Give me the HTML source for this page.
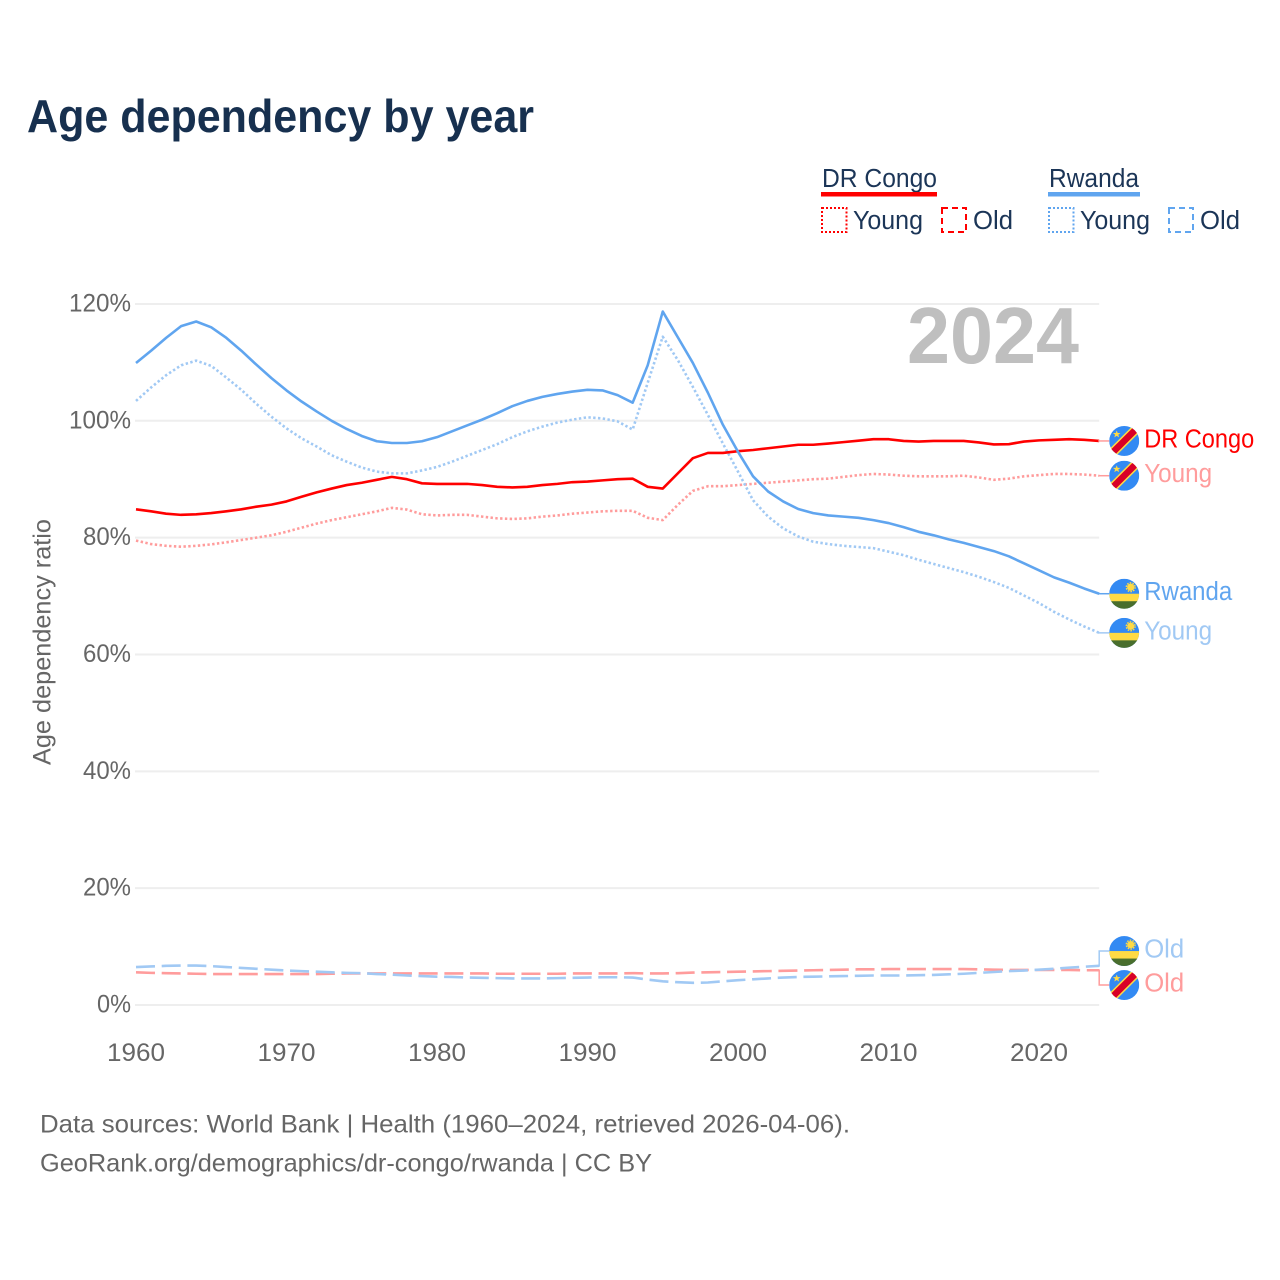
<!DOCTYPE html>
<html lang="en">
<head>
<meta charset="utf-8">
<title>Age dependency by year</title>
<style>
html,body{margin:0;padding:0;background:#fff;width:1280px;height:1280px;overflow:hidden}
svg{display:block;font-family:"Liberation Sans",sans-serif}
</style>
</head>
<body>
<svg id="chart" xmlns="http://www.w3.org/2000/svg" width="1280" height="1280" viewBox="0 0 1280 1280">
  <defs>
    <clipPath id="flag-clip"><circle cx="0" cy="0" r="15"/></clipPath>
    <symbol id="flag-cd" viewBox="-15 -15 30 30" overflow="visible">
      <g clip-path="url(#flag-clip)">
        <rect x="-15" y="-15" width="30" height="30" fill="#338af3"/>
        <line x1="-18" y1="18" x2="18" y2="-18" stroke="#ffda44" stroke-width="9.5"/>
        <line x1="-18" y1="18" x2="18" y2="-18" stroke="#d80027" stroke-width="6.5"/>
        <polygon points="-7.5,-10.5 -6.5,-7.9 -3.7,-7.9 -5.9,-6.2 -5.1,-3.6 -7.5,-5.1 -9.9,-3.6 -9.1,-6.2 -11.3,-7.9 -8.5,-7.9" fill="#ffda44"/>
      </g>
    </symbol>
    <symbol id="flag-rw" viewBox="-15 -15 30 30" overflow="visible">
      <g clip-path="url(#flag-clip)">
        <rect x="-15" y="-15" width="30" height="30" fill="#338af3"/>
        <rect x="-15" y="0" width="30" height="8" fill="#ffda44"/>
        <rect x="-15" y="7.5" width="30" height="8" fill="#496e2d"/>
        <circle cx="6.5" cy="-6.5" r="3.6" fill="#ffda44"/>
        <circle cx="6.5" cy="-6.5" r="4.4" fill="none" stroke="#ffda44" stroke-width="1.4" stroke-dasharray="1.6 1.2"/>
      </g>
    </symbol>
  </defs>

  <text x="27" y="132" font-size="46" font-weight="700" fill="#17304f" textLength="507" lengthAdjust="spacingAndGlyphs">Age dependency by year</text>

  <g id="legend" font-size="25.5" fill="#1b3557">
    <g>
      <text x="822" y="187" textLength="115" lengthAdjust="spacingAndGlyphs">DR Congo</text>
      <rect x="821" y="192" width="116" height="4.5" fill="#ff0000"/>
      <rect x="822" y="208" width="24.5" height="24" fill="none" stroke="#ff0000" stroke-width="2" stroke-dasharray="2 2"/>
      <text x="853" y="229" textLength="70" lengthAdjust="spacingAndGlyphs">Young</text>
      <rect x="942" y="208" width="24" height="24" fill="none" stroke="#ff0000" stroke-width="2" stroke-dasharray="6 4"/>
      <text x="973" y="229" textLength="40" lengthAdjust="spacingAndGlyphs">Old</text>
    </g>
    <g>
      <text x="1049" y="187" textLength="90" lengthAdjust="spacingAndGlyphs">Rwanda</text>
      <rect x="1048" y="192" width="92" height="4.5" fill="#60a5ef"/>
      <rect x="1049" y="208" width="24.5" height="24" fill="none" stroke="#60a5ef" stroke-width="2" stroke-dasharray="2 2"/>
      <text x="1080" y="229" textLength="70" lengthAdjust="spacingAndGlyphs">Young</text>
      <rect x="1169" y="208" width="24" height="24" fill="none" stroke="#60a5ef" stroke-width="2" stroke-dasharray="6 4"/>
      <text x="1200" y="229" textLength="40" lengthAdjust="spacingAndGlyphs">Old</text>
    </g>
  </g>

  <g id="grid"></g>

  <text x="907" y="363" font-size="80" font-weight="700" fill="#bfbfbf" textLength="172" lengthAdjust="spacingAndGlyphs">2024</text>

  <g id="y-axis" font-size="25" fill="#666666"></g>
  <g id="x-axis" font-size="25" fill="#666666"></g>
  <text transform="translate(50.5,642) rotate(-90)" text-anchor="middle" font-size="25" fill="#666666" textLength="246" lengthAdjust="spacingAndGlyphs">Age dependency ratio</text>

  <g id="series" fill="none"></g>
  <g id="end-labels" font-size="25.5"></g>

  <text x="40" y="1132.5" font-size="25" fill="#666666" textLength="810" lengthAdjust="spacingAndGlyphs">Data sources: World Bank | Health (1960–2024, retrieved 2026-04-06).</text>
  <text x="40" y="1171.5" font-size="25" fill="#666666" textLength="612" lengthAdjust="spacingAndGlyphs">GeoRank.org/demographics/dr-congo/rwanda | CC BY</text>
</svg>

<script>
const years = [1960,1961,1962,1963,1964,1965,1966,1967,1968,1969,1970,1971,1972,1973,1974,1975,1976,1977,1978,1979,1980,1981,1982,1983,1984,1985,1986,1987,1988,1989,1990,1991,1992,1993,1994,1995,1996,1997,1998,1999,2000,2001,2002,2003,2004,2005,2006,2007,2008,2009,2010,2011,2012,2013,2014,2015,2016,2017,2018,2019,2020,2021,2022,2023,2024];
const yTickValues = [0,20,40,60,80,100,120];
const xTickValues = [1960,1970,1980,1990,2000,2010,2020];

const drCongoTotal = [84.85,84.5,84.1,83.9,84,84.2,84.5,84.85,85.3,85.65,86.2,87,87.75,88.4,89,89.4,89.9,90.4,90,89.3,89.2,89.2,89.2,89,88.7,88.6,88.7,89,89.2,89.5,89.6,89.8,90,90.1,88.7,88.4,91,93.6,94.5,94.5,94.8,95,95.3,95.6,95.9,95.9,96.1,96.35,96.6,96.85,96.85,96.55,96.45,96.55,96.55,96.55,96.3,95.95,96,96.45,96.65,96.75,96.85,96.75,96.55];
const drCongoYoung = [79.5,78.9,78.6,78.45,78.6,78.85,79.2,79.6,80,80.4,81,81.7,82.4,83,83.5,84,84.5,85.1,84.8,84,83.8,83.9,83.9,83.6,83.3,83.2,83.3,83.6,83.8,84.1,84.3,84.5,84.6,84.6,83.4,83,85.6,88,88.8,88.8,89,89.2,89.4,89.6,89.8,90,90.1,90.4,90.7,90.9,90.8,90.6,90.5,90.5,90.5,90.6,90.3,89.9,90.1,90.5,90.7,90.9,90.9,90.8,90.6];
const drCongoOld = [5.6,5.5,5.45,5.4,5.35,5.3,5.3,5.3,5.3,5.3,5.3,5.3,5.3,5.35,5.4,5.4,5.4,5.4,5.4,5.4,5.4,5.4,5.4,5.4,5.35,5.35,5.35,5.35,5.35,5.4,5.4,5.4,5.4,5.45,5.4,5.4,5.45,5.55,5.6,5.65,5.7,5.75,5.8,5.85,5.9,5.95,6,6.05,6.1,6.1,6.15,6.15,6.15,6.15,6.15,6.15,6.1,6.05,6,6,6,6,6,5.95,5.95];
const rwandaTotal = [109.9,112,114.2,116.2,117,116,114.2,112,109.6,107.3,105.2,103.3,101.6,100,98.6,97.4,96.5,96.2,96.2,96.5,97.2,98.2,99.2,100.2,101.3,102.5,103.4,104.1,104.6,105,105.3,105.2,104.4,103.1,109.5,118.7,114.3,109.9,104.8,99.3,94.7,90.5,87.9,86.2,84.9,84.2,83.8,83.6,83.4,83,82.5,81.8,81,80.4,79.7,79.1,78.4,77.7,76.8,75.6,74.4,73.2,72.3,71.3,70.4];
const rwandaYoung = [103.4,105.7,107.8,109.5,110.3,109.4,107.4,105.3,102.9,100.7,98.7,97,95.6,94.1,93,92,91.3,91,91,91.5,92.1,93,94,95,96,97.2,98.2,99,99.7,100.2,100.6,100.4,99.9,98.5,106.5,114.4,110.4,105.8,101,96.1,91.3,86.4,83.6,81.6,80.2,79.3,78.9,78.6,78.4,78.2,77.6,77,76.2,75.5,74.8,74.1,73.3,72.4,71.4,70.1,68.8,67.3,66,64.8,63.7];
const rwandaOld = [6.5,6.6,6.7,6.75,6.75,6.65,6.5,6.35,6.2,6.05,5.9,5.8,5.7,5.6,5.5,5.45,5.3,5.2,5.05,4.95,4.85,4.8,4.7,4.65,4.6,4.55,4.55,4.55,4.6,4.65,4.7,4.75,4.75,4.7,4.35,4.05,3.9,3.8,3.85,4.05,4.25,4.4,4.55,4.7,4.8,4.85,4.9,4.95,5,5.05,5.05,5.05,5.1,5.15,5.25,5.35,5.5,5.65,5.8,5.9,6.05,6.2,6.4,6.55,6.7];

const SVG_NS = 'http://www.w3.org/2000/svg';
const RED = '#ff0000', RED_LIGHT = '#ff9c9c', BLUE = '#60a5ef', BLUE_LIGHT = '#a1c9f4';
const X0 = 136, X_PER_YEAR = 15.05, Y0 = 1005, Y_PER_PCT = 5.842;
function xScale(year) { return X0 + (year - years[0]) * X_PER_YEAR; }
function yScale(pct) { return Y0 - pct * Y_PER_PCT; }
function make(tag, parent) {
  const el = document.createElementNS(SVG_NS, tag);
  parent.appendChild(el);
  return el;
}

const gridGroup = document.getElementById('grid');
const yAxisGroup = document.getElementById('y-axis');
const xAxisGroup = document.getElementById('x-axis');
const seriesGroup = document.getElementById('series');
const labelGroup = document.getElementById('end-labels');

yTickValues.forEach(function (v) {
  const line = make('line', gridGroup);
  
  
  line.setAttribute('x1', xScale(years[0]) - 1);
  line.setAttribute('x2', xScale(years[years.length - 1]));
  line.setAttribute('y1', yScale(v));
  line.setAttribute('y2', yScale(v));
  line.setAttribute('stroke', '#eeeeee');
  line.setAttribute('stroke-width', '2');

  const text = v + '%';
  const label = make('text', yAxisGroup);
  
  
  label.setAttribute('x', 131);
  label.setAttribute('y', yScale(v) + 7.5);
  label.setAttribute('text-anchor', 'end');
  label.setAttribute('textLength', 14 * text.length + 6);
  label.setAttribute('lengthAdjust', 'spacingAndGlyphs');
  label.textContent = text;
});

xTickValues.forEach(function (v) {
  const label = make('text', xAxisGroup);
  
  
  label.setAttribute('x', xScale(v));
  label.setAttribute('y', 1061);
  label.setAttribute('text-anchor', 'middle');
  label.setAttribute('textLength', 58);
  label.setAttribute('lengthAdjust', 'spacingAndGlyphs');
  label.textContent = String(v);
});

function pathFor(values) {
  return values.map(function (v, i) {
    return (i ? 'L' : 'M') + xScale(years[i]).toFixed(2) + ' ' + yScale(v).toFixed(2);
  }).join('');
}

function drawLine(name, values, color, dash) {
  const path = make('path', seriesGroup);
  
  
  path.setAttribute('d', pathFor(values));
  path.setAttribute('stroke', color);
  path.setAttribute('stroke-width', '2.6');
  path.setAttribute('stroke-linejoin', 'round');
  if (dash) path.setAttribute('stroke-dasharray', dash);
}

drawLine('line-dr-congo-old', drCongoOld, RED_LIGHT, '19 6.7');
drawLine('line-rwanda-old', rwandaOld, BLUE_LIGHT, '19 6.7');
drawLine('line-dr-congo-young', drCongoYoung, RED_LIGHT, '2.4 2.4');
drawLine('line-rwanda-young', rwandaYoung, BLUE_LIGHT, '2.4 2.4');
drawLine('line-dr-congo-total', drCongoTotal, RED, null);
drawLine('line-rwanda-total', rwandaTotal, BLUE, null);

function last(values) { return values[values.length - 1]; }

// vertical spacing between end labels that would otherwise collide
const LABEL_GAP = 34;
function spread(a, b) {
  const ya = yScale(a), yb = yScale(b);
  if (Math.abs(ya - yb) >= LABEL_GAP) return [ya, yb];
  const mid = (ya + yb) / 2;
  const dir = ya <= yb ? 1 : -1;
  return [mid - dir * LABEL_GAP / 2, mid + dir * LABEL_GAP / 2];
}
const oldSpread = spread(last(rwandaOld), last(drCongoOld));

function drawEndLabel(name, text, textWidth, value, labelY, color, flag, connectorColor) {
  const endX = xScale(years[years.length - 1]);
  const endY = yScale(value);

  const connector = make('path', labelGroup);
  
  
  connector.setAttribute('d', 'M' + (endX - 1) + ' ' + endY + 'L' + endX + ' ' + endY + 'L' + endX + ' ' + labelY + 'L' + (endX + 10) + ' ' + labelY);
  connector.setAttribute('fill', 'none');
  connector.setAttribute('stroke', connectorColor);
  connector.setAttribute('stroke-width', '1.5');

  const icon = make('use', labelGroup);
  
  
  icon.setAttribute('href', '#' + flag);
  icon.setAttribute('x', endX + 10);
  icon.setAttribute('y', labelY - 15);
  icon.setAttribute('width', 30);
  icon.setAttribute('height', 30);

  const label = make('text', labelGroup);
  
  
  label.setAttribute('x', endX + 45);
  label.setAttribute('y', labelY + 6.5);
  label.setAttribute('fill', color);
  label.setAttribute('textLength', textWidth);
  label.setAttribute('lengthAdjust', 'spacingAndGlyphs');
  label.textContent = text;
}

drawEndLabel('dr-congo-total', 'DR Congo', 110, last(drCongoTotal), yScale(last(drCongoTotal)), RED, 'flag-cd', RED_LIGHT);
drawEndLabel('dr-congo-young', 'Young', 68, last(drCongoYoung), yScale(last(drCongoYoung)), RED_LIGHT, 'flag-cd', RED_LIGHT);
drawEndLabel('rwanda-total', 'Rwanda', 88, last(rwandaTotal), yScale(last(rwandaTotal)), BLUE, 'flag-rw', BLUE);
drawEndLabel('rwanda-young', 'Young', 68, last(rwandaYoung), yScale(last(rwandaYoung)), BLUE_LIGHT, 'flag-rw', BLUE_LIGHT);
drawEndLabel('rwanda-old', 'Old', 40, last(rwandaOld), oldSpread[0], BLUE_LIGHT, 'flag-rw', BLUE_LIGHT);
drawEndLabel('dr-congo-old', 'Old', 40, last(drCongoOld), oldSpread[1], RED_LIGHT, 'flag-cd', RED_LIGHT);
</script>
</body>
</html>
